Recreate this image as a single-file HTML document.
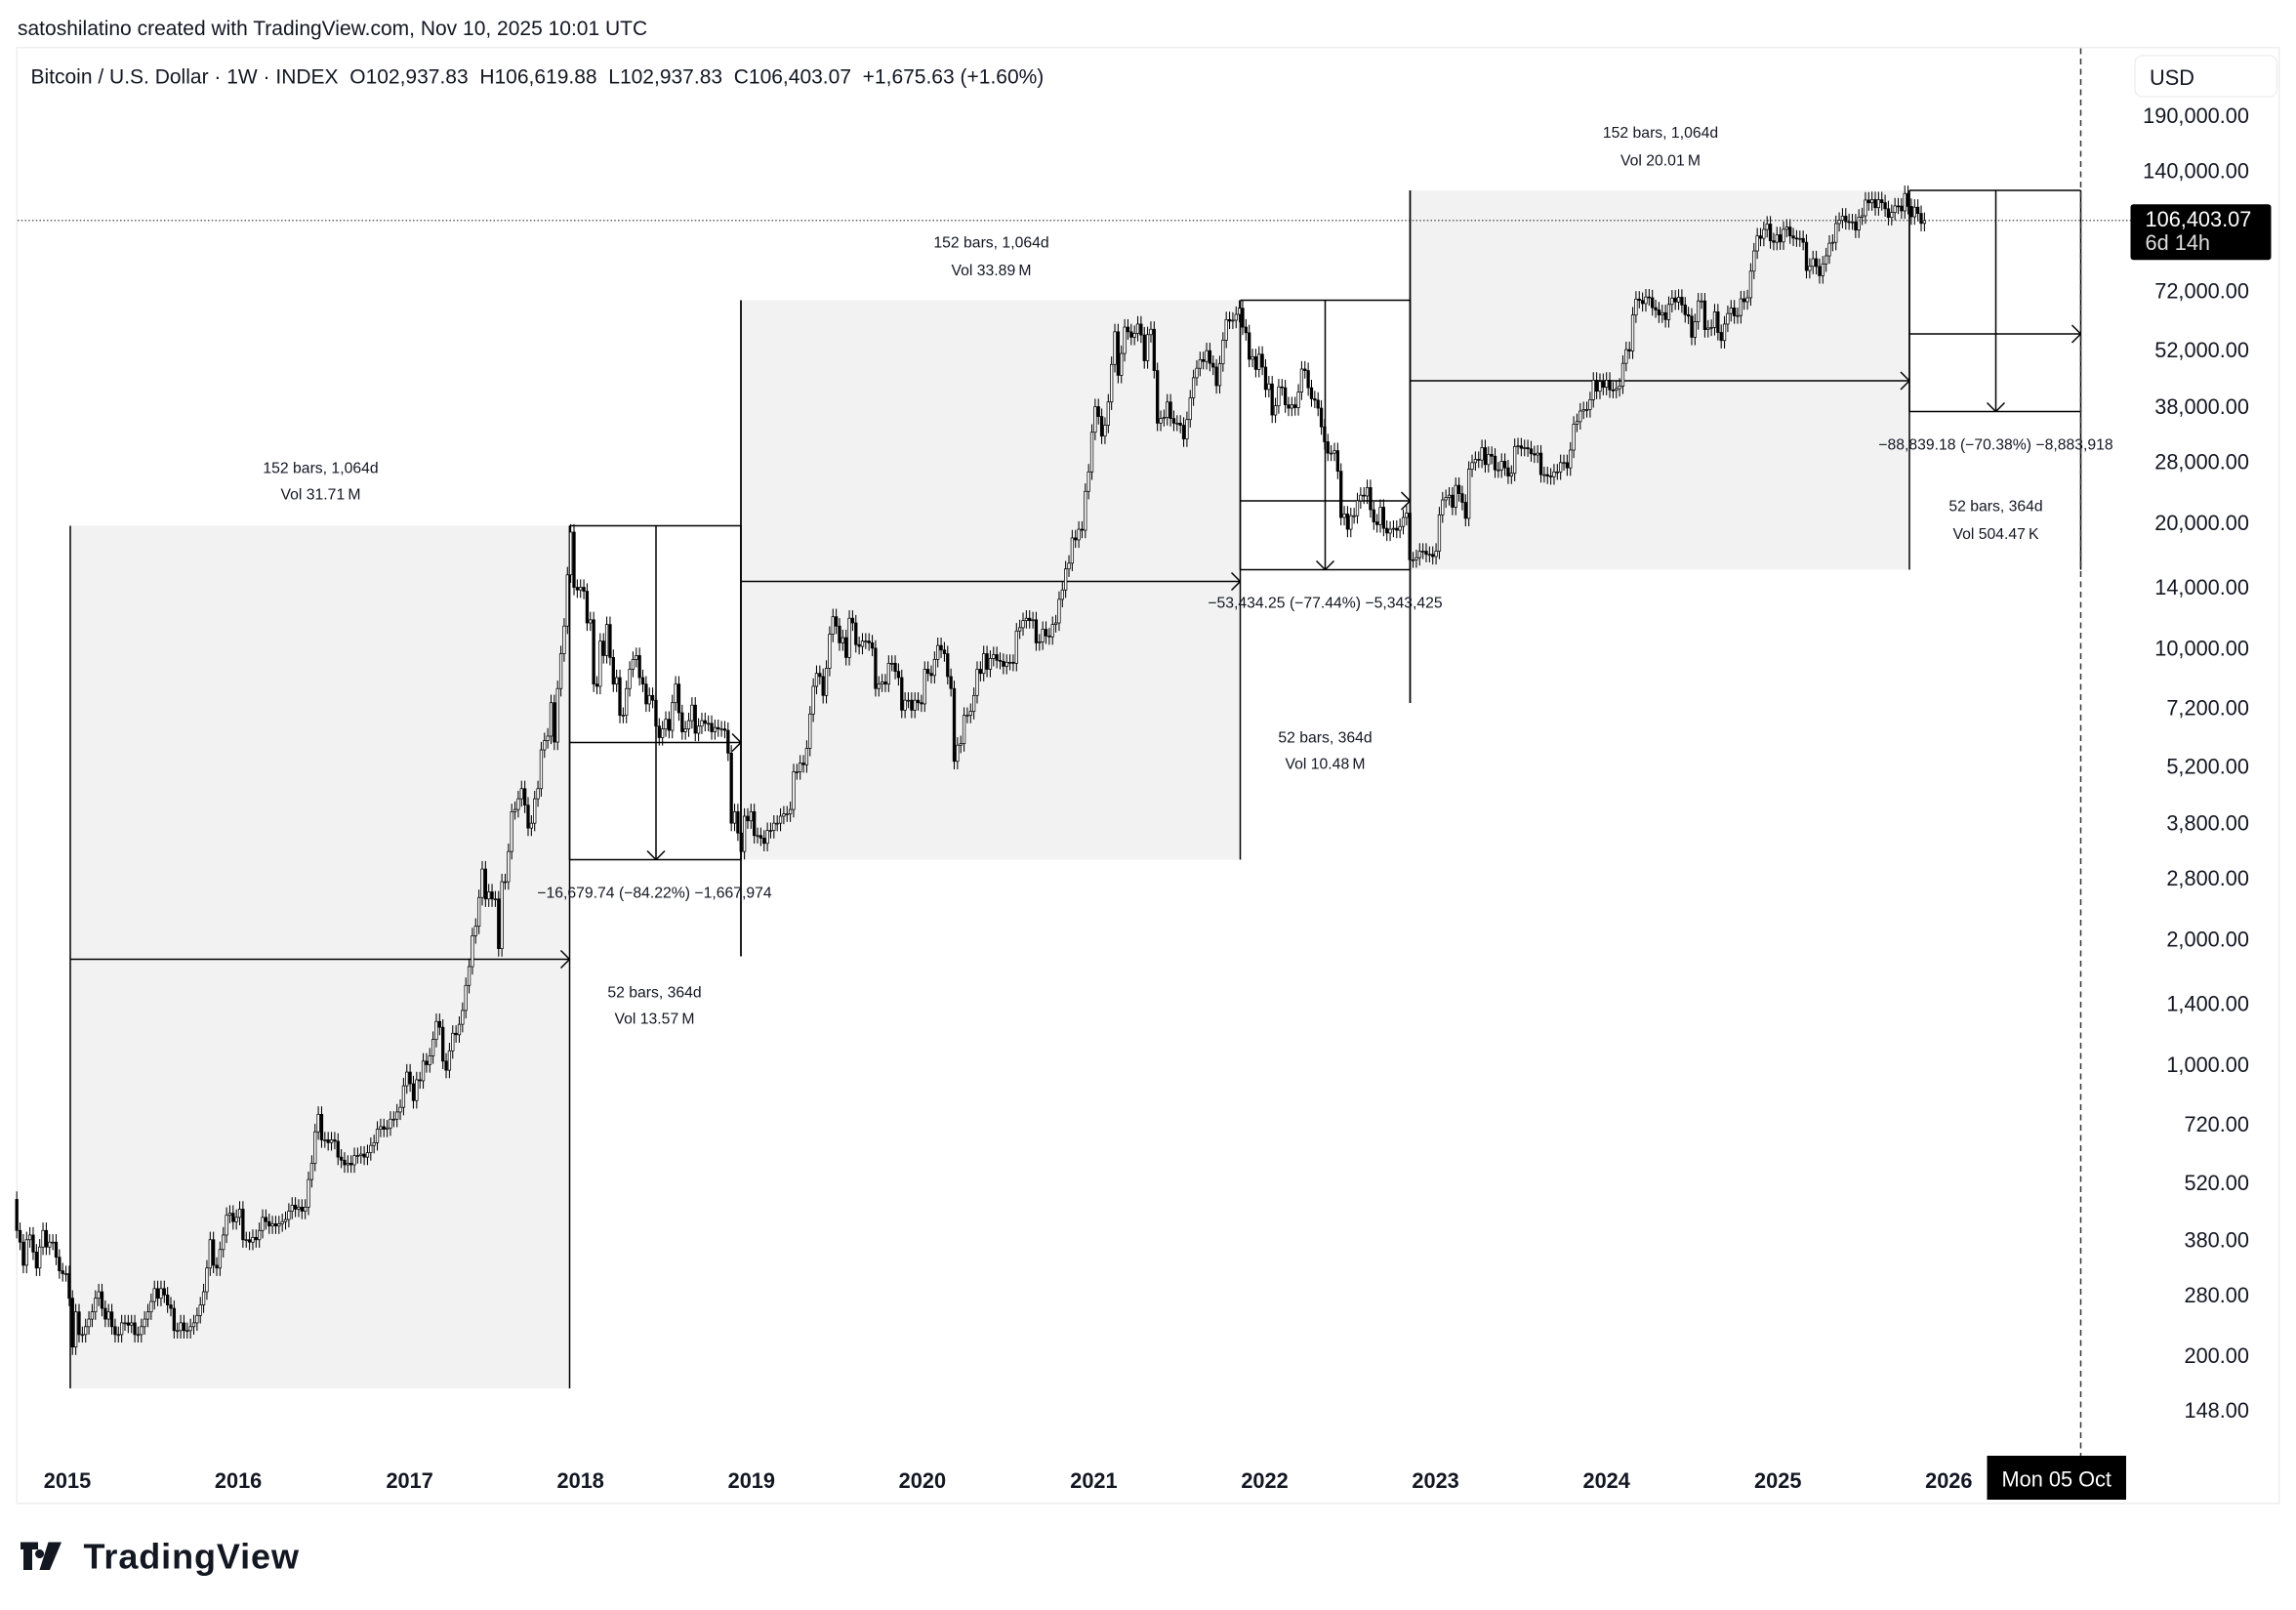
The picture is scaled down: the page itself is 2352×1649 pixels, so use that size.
<!DOCTYPE html>
<html><head><meta charset="utf-8"><style>
html,body{margin:0;padding:0;background:#fff;}
svg{display:block;font-family:"Liberation Sans",sans-serif;}
.pre{white-space:pre;}
</style></head><body>
<svg id="chart" width="2352" height="1649" viewBox="0 0 1568 1099.33" xmlns="http://www.w3.org/2000/svg">
<rect x="0" y="0" width="1568" height="1100" fill="#fff"/>
<text x="12" y="24" font-size="14" fill="#131722">satoshilatino created with TradingView.com, Nov 10, 2025 10:01 UTC</text>
<rect x="11.5" y="32.5" width="1545" height="994" fill="none" stroke="#eeeeee" stroke-width="1"/>
<text class="pre" xml:space="preserve" x="21" y="57" font-size="14" fill="#131722">Bitcoin / U.S. Dollar · 1W · INDEX  O102,937.83  H106,619.88  L102,937.83  C106,403.07  +1,675.63 (+1.60%)</text>
<g id="drawings"></g>
<g id="candles"></g>
<g id="overlay"></g>
<g id="yaxis">
<rect x="1458" y="38" width="97" height="28" rx="5" fill="#fff" stroke="#f0f0f0"/>
<text x="1468" y="58" font-size="14.5" fill="#131722">USD</text>
</g>
<g id="xaxis"></g>
<g>
<path d="M14 1053h12v5h-4v14h-6v-14h-2zM27 1058a3 3 0 1 0 .1 0zM33 1053h9l-8 19h-7z" fill="#131722"/>
<text x="57" y="1071" font-size="24" font-weight="bold" fill="#131722" textLength="147">TradingView</text>
</g>
</svg>
<script>
const startDate = [2014, 8, 15];
const closes = [
400,375,330,380,390,355,325,365,400,365,375,375,345,320,315,315,
275,210,255,225,225,235,245,255,275,285,260,245,255,235,225,225,240,240,237,240,225,225,235,245,255,270,290,275,290,280,265,260,230,230,240,230,230,235,240,250,265,285,325,380,330,325,360,390,435,440,420,430,
450,380,380,375,385,380,400,430,420,410,415,410,415,420,425,445,460,450,455,445,455,530,580,690,760,660,660,650,660,655,600,590,575,580,575,605,605,610,600,615,640,650,700,710,700,705,740,740,770,790,890,960,
900,820,920,915,1020,1000,1050,1150,1270,1230,1020,970,1080,1190,1180,1250,1350,1550,1720,2040,2150,2520,2950,2500,2600,2500,2500,1900,2750,2750,3250,4050,4100,4350,4600,4200,3700,3800,4350,4600,5700,6000,6150,7400,5950,8000,9700,11300,15000,19000,14000,13800,
14000,13700,11500,11700,8200,8100,10400,9600,11400,9500,8200,8500,6900,6900,8000,8900,9400,9600,8500,8200,7350,7700,7500,6500,6100,6400,6750,6350,7400,8200,7000,6300,6400,6700,7300,6250,6500,6700,6600,6600,6300,6450,6400,6400,6350,5600,3800,4050,3600,3250,3950,3850,4050,
3550,3550,3500,3400,3650,3650,3800,3800,3950,4000,4000,4100,5050,5050,5300,5250,5750,6950,8100,8700,8550,7700,8950,10800,11900,11300,10300,10600,9500,11800,11500,10200,10100,10400,10400,10300,10000,8000,8200,8300,8200,9200,9200,8800,8500,7100,7500,7500,7100,7500,7400,7350,
8900,8700,8600,9400,10150,9900,9700,8550,8000,5350,5850,5900,6900,6900,7050,7700,8900,8700,9700,8900,9450,9650,9350,9300,9050,9250,9250,9200,11000,11200,11650,11800,11650,11700,10300,10350,11100,10700,10650,11400,11500,13100,13800,15500,16000,18400,18200,19300,19200,23800,26500,33000,
38000,36000,32300,34300,39000,48000,57500,45200,51000,59000,57500,55800,57000,60000,56500,49000,56600,58300,46400,34700,35600,35800,39000,35600,34700,34700,34300,31800,35400,39900,44600,47000,49300,48800,51800,48300,47300,42700,48200,54900,61500,61000,61300,63300,65500,59000,57200,49400,50100,46700,50800,47300,
41800,43100,36300,38200,42400,42200,38400,37700,38400,37800,41200,46800,46400,42200,39700,39400,37700,34000,31300,29400,29400,29800,26600,20600,21000,19300,20800,20800,22600,23300,23200,24300,21500,20100,19800,21800,19400,18900,19300,19400,19200,19600,20600,21100,16300,16300,16500,17100,17100,16800,16800,16600,
17100,20900,22700,23000,23300,21800,24600,23500,22400,20500,26900,27900,28400,28300,30300,27600,29200,28900,26800,26800,28100,27100,25900,26300,30500,30600,30200,30300,30100,29300,29100,29400,26100,26100,25900,25800,26500,26500,27900,27900,27100,29900,34500,35000,37100,37400,37400,39500,44000,41400,43700,42300,
44000,41700,41600,42000,42600,48300,52100,51700,63100,68900,68400,67200,69700,69400,65700,64900,63100,63900,61500,66900,69300,67800,69600,66700,63200,62700,55800,60800,68200,68200,58200,58700,58900,64200,57300,54800,60000,63600,65600,62800,62900,69000,67900,69400,80400,89900,97700,96400,101200,104300,95100,94300,98300,
94500,101300,102600,97700,96500,96100,96300,94300,80700,82600,86100,82500,78400,83700,87500,93800,94300,104600,106500,109000,105700,105600,105600,100900,108400,109200,119100,117300,119400,114200,119300,117400,113500,108200,111200,115300,115200,112200,123500,115000,108600,114500,110600,104700,106403
];
const firstOpen = 475;
const yTicks = [190000,140000,72000,52000,38000,28000,20000,14000,10000,7200,5200,3800,2800,2000,1400,1000,720,520,380,280,200,148];
const yearLabels = ["2015","2016","2017","2018","2019","2020","2021","2022","2023","2024","2025","2026"];
const lastPrice = 106403.07;

const NS = "http://www.w3.org/2000/svg";
const Y0 = Date.UTC(2015,0,1), YMS = 365.25*86400000;
function xOfTime(t){ return 46 + (t - Y0)/YMS*116.8; }
function xOfYear(y){ return xOfTime(Date.UTC(y,0,1)); }
function yOf(v){ return 727 - (Math.log10(v) - 3)*284.4; }
function mk(tag, attrs, parent){ const e=document.createElementNS(NS,tag); for(const k in attrs) e.setAttribute(k,attrs[k]); parent.appendChild(e); return e; }

const cg = document.getElementById('candles');
const t0 = Date.UTC(startDate[0], startDate[1], startDate[2]);
for (let i=0;i<closes.length;i++){
  const o = i===0 ? firstOpen : closes[i-1];
  const c = closes[i];
  const x = xOfTime(t0 + i*7*86400000);
  const hi = Math.max(o,c)*1.045, lo = Math.min(o,c)/1.045;
  const w = mk('line',{x1:x,x2:x,y1:yOf(hi),y2:yOf(lo),stroke:'#000','stroke-width':0.7},cg);
  
  
  const top = yOf(Math.max(o,c)), bot = yOf(Math.min(o,c));
  const b = mk('rect',{x:x-0.85,y:top,width:1.7,height:Math.max(0.6,bot-top),fill:c>=o?'#fff':'#000',stroke:'#000','stroke-width':0.5},cg);
  
  
}

const dg = document.getElementById('drawings');
function L(x1,y1,x2,y2,p){ const e=mk('line',{x1,y1,x2,y2,stroke:'#000','stroke-width':1},p||dg); return e; }
function T(x,y,s){ const e=mk('text',{x,y,'font-size':10.5,'text-anchor':'middle',fill:'#131722'},dg); e.textContent=s;   return e; }
function arrowR(x,y){ L(x-6,y-6,x,y); L(x-6,y+6,x,y); }
function arrowD(x,y){ L(x-6,y-6,x,y); L(x+6,y-6,x,y); }
const grayBoxes = [[48,389,359,948,655],[506,847,205,587,397],[963,1304,130,389,260]];
grayBoxes.forEach(b=>{
  const r=mk('rect',{x:b[0],y:b[2],width:b[1]-b[0],height:b[3]-b[2],fill:'#f2f2f2'},dg);
  
  
  L(b[0],b[2],b[0],b[3]); L(b[1],b[2],b[1],b[3]);
  L(b[0],b[4],b[1],b[4]); arrowR(b[1],b[4]);
});
const priceBoxes = [[389,506,359,587,507,448,653],[847,963,205,389,342,905,480],[1304,1421,130,281,228,1363,389]];
priceBoxes.forEach(b=>{
  L(b[0],b[2],b[1],b[2]); L(b[0],b[3],b[1],b[3]);
  L(b[0],b[2],b[0],b[3]); L(b[1],b[2],b[1],b[6]);
  L(b[0],b[4],b[1],b[4]); arrowR(b[1],b[4]);
  L(b[5],b[2],b[5],b[3]); arrowD(b[5],b[3]);
});
L(506,205,506,653); L(963,130,963,480);
T(219,323,"152 bars, 1,064d"); T(219,341,"Vol 31.71\u2009M");
T(677,169,"152 bars, 1,064d"); T(677,188,"Vol 33.89\u2009M");
T(1134,94,"152 bars, 1,064d"); T(1134,113,"Vol 20.01\u2009M");
T(447,613,"\u221216,679.74 (\u221284.22%) \u22121,667,974");
T(905,415,"\u221253,434.25 (\u221277.44%) \u22125,343,425");
T(1363,307,"\u221288,839.18 (\u221270.38%) \u22128,883,918");
T(447,681,"52 bars, 364d"); T(447,699,"Vol 13.57\u2009M");
T(905,507,"52 bars, 364d"); T(905,525,"Vol 10.48\u2009M");
T(1363,349,"52 bars, 364d"); T(1363,368,"Vol 504.47\u2009K");

const og = document.getElementById('overlay');
const pl = mk('line',{x1:12,x2:1455,y1:yOf(lastPrice),y2:yOf(lastPrice),stroke:'#333','stroke-width':0.8,'stroke-dasharray':'1 1.5'},og);


const cl = mk('line',{x1:1421,x2:1421,y1:33,y2:994,stroke:'#333','stroke-width':1,'stroke-dasharray':'4 3'},og);



const ya = document.getElementById('yaxis');
yTicks.forEach(v=>{
  const t=mk('text',{x:1536,y:yOf(v)+5,'font-size':14.5,'text-anchor':'end',fill:'#131722'},ya);
  t.textContent=v.toLocaleString('en-US',{minimumFractionDigits:2});
  
  
});
const py=yOf(lastPrice);
const pb=mk('rect',{x:1455,y:py-11,width:96,height:38,rx:2,fill:'#000'},ya);


const pt=mk('text',{x:1465,y:py+4,'font-size':14.5,fill:'#fff'},ya); pt.textContent=lastPrice.toLocaleString('en-US',{minimumFractionDigits:2});


const ct=mk('text',{x:1465,y:py+20,'font-size':14.5,fill:'#ddd'},ya); ct.textContent="6d 14h";



const xa = document.getElementById('xaxis');
yearLabels.forEach(s=>{
  const t=mk('text',{x:xOfYear(+s),y:1016,'font-size':14.5,'font-weight':'bold','text-anchor':'middle',fill:'#131722'},xa);
  t.textContent=s;
  
  
});
const xb=mk('rect',{x:1357,y:994,width:95,height:30,fill:'#000'},xa);


const xt=mk('text',{x:1404.5,y:1015,'font-size':14.5,'text-anchor':'middle',fill:'#fff'},xa); xt.textContent="Mon 05 Oct";


</script>
</body></html>
